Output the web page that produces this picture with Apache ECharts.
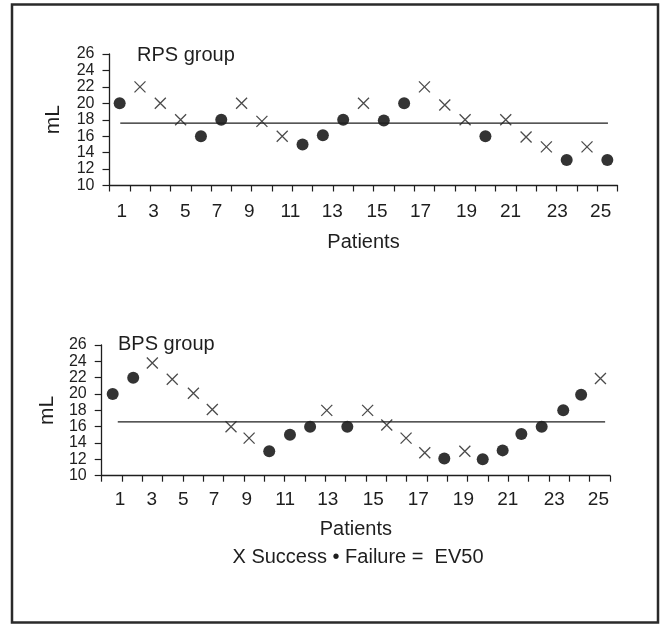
<!DOCTYPE html>
<html><head><meta charset="utf-8">
<script src="https://cdn.jsdelivr.net/npm/echarts@6/dist/echarts.min.js"></script>
<style>html,body{margin:0;padding:0;background:#fff}#c{width:661px;height:625px}</style>
</head><body><div id="c"></div>
<script>
// ---- data ----
const xTickLabels = ['1','3','5','7','9','11','13','15','17','19','21','23','25'];
const xTickPos = [0.5,1.5,2.5,3.5,4.5,5.5,6.5,7.5,8.5,9.5,10.5,11.5,12.5,13.5,14.5,15.5,16.5,17.5,18.5,19.5,20.5,21.5,22.5,23.5,24.5,25.5];
const yTickLabels = ['10','12','14','16','18','20','22','24','26'];

// RPS group
const rpsLabelPos = [1.11,2.67,4.23,5.79,7.38,9.40,11.46,13.67,15.81,18.07,20.24,22.54,24.67];
const rpsX = [1,2,3,4,5,6,7,8,9,10,11,12,13,14,15,16,17,18,19,20,21,22,23,24,25];
const rpsValues = [20,22,20,18,16,18,20,17.8,16,15,16.1,18,20,17.9,20,22,19.8,18,16,18,15.9,14.7,13.1,14.7,13.1];
const rpsOutcome = ['F','S','S','S','F','F','S','S','S','F','F','F','S','F','F','S','S','S','F','S','S','S','F','S','F'];
const rpsEV50 = 17.6;
const rpsEVSpan = [1.03, 25.03];

// BPS group
const bpsLabelPos = [1.40,2.96,4.51,6.02,7.63,9.52,11.62,13.86,16.07,18.29,20.47,22.76,24.93];
const bpsX = [1.04,2.05,2.99,3.97,5.01,5.94,6.86,7.75,8.74,9.76,10.75,11.57,12.58,13.58,14.52,15.47,16.39,17.35,18.36,19.24,20.22,21.14,22.14,23.2,24.08,25.03];
const bpsValues = [20,22,23.8,21.8,20.1,18.1,16,14.6,13,15,16,18,16,18,16.2,14.6,12.8,12.1,13,12,13.1,15.1,16,18,19.9,21.9];
const bpsOutcome = ['F','F','S','S','S','S','S','S','F','F','F','S','F','S','S','S','S','F','S','F','F','F','F','F','F','S'];
const bpsEV50 = 16.6;
const bpsEVSpan = [1.29, 25.26];

// ---- chart ----
const INK = '#1e1e1e';
const FONT = '"Liberation Sans", Arial, sans-serif';
const X_PATH = 'path://M0,0L10,10M10,0L0,10';

function pick(xs, ys, outcome, code) {
  return xs.map((x, i) => [x, ys[i]]).filter((_, i) => outcome[i] === code);
}
function labelFmt(pos) {
  return v => {
    let best = 0;
    for (let i = 0; i < pos.length; i++) if (Math.abs(pos[i] - v) < Math.abs(pos[best] - v)) best = i;
    return xTickLabels[best];
  };
}
function makeX(gi, labelPos, margin, nameGap) {
  return {
    gridIndex: gi, type: 'value', min: 0.5, max: 25.5,
    name: 'Patients', nameLocation: 'middle', nameGap: nameGap,
    nameTextStyle: { color: INK, fontSize: 20, fontFamily: FONT },
    axisLine: { show: true, lineStyle: { color: INK, width: 1.3 } },
    axisTick: { show: true, length: 6, customValues: xTickPos, lineStyle: { color: INK, width: 1.2 } },
    axisLabel: { customValues: labelPos, formatter: labelFmt(labelPos), color: INK, fontSize: 19, fontFamily: FONT, margin: margin, hideOverlap: false },
    splitLine: { show: false }
  };
}
function makeY(gi, nameGap) {
  return {
    gridIndex: gi, type: 'value', min: 10, max: 26, interval: 2,
    name: 'mL', nameLocation: 'middle', nameGap: nameGap, nameRotate: 90,
    nameTextStyle: { color: INK, fontSize: 21, fontFamily: FONT },
    axisLine: { show: true, lineStyle: { color: INK, width: 1.3 } },
    axisTick: { show: true, length: 7, lineStyle: { color: INK, width: 1.2 } },
    axisLabel: { color: INK, fontSize: 16, fontFamily: FONT, margin: 15,
      showMinLabel: true, showMaxLabel: true,
      formatter: v => yTickLabels[Math.round((v - 10) / 2)] },
    splitLine: { show: false }
  };
}
function groupSeries(idx, xs, ys, outcome, ev, span) {
  return [
    { type: 'scatter', xAxisIndex: idx, yAxisIndex: idx, data: pick(xs, ys, outcome, 'S'),
      symbol: X_PATH, symbolSize: 11, symbolKeepAspect: true,
      itemStyle: { color: 'rgba(0,0,0,0)', borderColor: INK, borderWidth: 1.3 } },
    { type: 'scatter', xAxisIndex: idx, yAxisIndex: idx, data: pick(xs, ys, outcome, 'F'),
      symbol: 'circle', symbolSize: 12, itemStyle: { color: '#000' } },
    { type: 'line', xAxisIndex: idx, yAxisIndex: idx, data: [[span[0], ev], [span[1], ev]],
      symbol: 'none', lineStyle: { color: INK, width: 1.3 }, silent: true }
  ];
}

const chart = echarts.init(document.getElementById('c'));
chart.setOption({
  animation: false,
  backgroundColor: '#fff',
  textStyle: { fontFamily: FONT },
  title: [
    { text: 'RPS group', left: 137, top: 45, padding: 0, textStyle: { color: INK, fontSize: 20, fontWeight: 'normal', fontFamily: FONT } },
    { text: 'BPS group', left: 118, top: 334, padding: 0, textStyle: { color: INK, fontSize: 20, fontWeight: 'normal', fontFamily: FONT } }
  ],
  grid: [
    { left: 109.5, right: 43.5, top: 54, height: 131.5 },
    { left: 101.7, right: 51, top: 345, height: 130.7 }
  ],
  xAxis: [makeX(0, rpsLabelPos, 17, 47), makeX(1, bpsLabelPos, 15, 44)],
  yAxis: [makeY(0, 46), makeY(1, 43)],
  series: [].concat(
    groupSeries(0, rpsX, rpsValues, rpsOutcome, rpsEV50, rpsEVSpan),
    groupSeries(1, bpsX, bpsValues, bpsOutcome, bpsEV50, bpsEVSpan)
  ),
  graphic: [
    { type: 'rect', shape: { x: 12, y: 4.5, width: 646, height: 618 },
      style: { fill: 'none', stroke: '#2a2a2a', lineWidth: 2.5 }, silent: true },
    { type: 'text', x: 358, y: 557,
      style: { text: 'X Success \u2022 Failure =  EV50', fill: INK, fontSize: 20, fontFamily: FONT,
        textAlign: 'center', textVerticalAlign: 'middle' }, silent: true }
  ]
});
</script>
</body></html>
